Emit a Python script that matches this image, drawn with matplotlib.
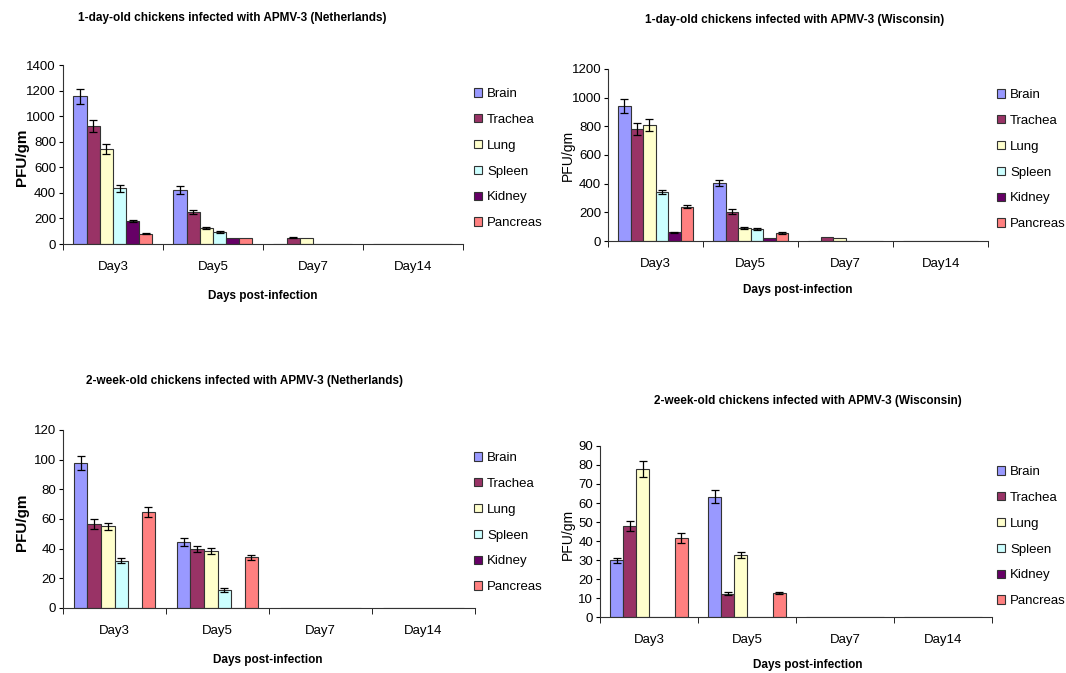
import matplotlib
matplotlib.use("Agg")
import matplotlib.pyplot as plt
import numpy as np

plt.rcParams['font.family'] = ['Liberation Sans Narrow', 'Liberation Sans', 'DejaVu Sans']

days = ["Day3", "Day5", "Day7", "Day14"]
organs = ["Brain", "Trachea", "Lung", "Spleen", "Kidney", "Pancreas"]
colors = ["#9999ff", "#993366", "#ffffcc", "#ccffff", "#660066", "#ff8080"]

# values per organ, one entry per day (Day3, Day5, Day7, Day14)
nl_1d = {
    "Brain":    [1155, 425, 0, 0],
    "Trachea":  [925, 250, 50, 0],
    "Lung":     [745, 125, 45, 0],
    "Spleen":   [435, 95, 0, 0],
    "Kidney":   [180, 50, 0, 0],
    "Pancreas": [80, 45, 0, 0],
}
nl_1d_err = {
    "Brain":    [60, 30, 0, 0],
    "Trachea":  [45, 15, 3, 0],
    "Lung":     [40, 5, 0, 0],
    "Spleen":   [25, 5, 0, 0],
    "Kidney":   [8, 0, 0, 0],
    "Pancreas": [5, 0, 0, 0],
}
wi_1d = {
    "Brain":    [940, 405, 0, 0],
    "Trachea":  [780, 205, 28, 0],
    "Lung":     [810, 90, 20, 0],
    "Spleen":   [340, 85, 0, 0],
    "Kidney":   [60, 20, 0, 0],
    "Pancreas": [240, 55, 0, 0],
}
wi_1d_err = {
    "Brain":    [50, 20, 0, 0],
    "Trachea":  [40, 15, 0, 0],
    "Lung":     [40, 5, 0, 0],
    "Spleen":   [15, 5, 0, 0],
    "Kidney":   [5, 0, 0, 0],
    "Pancreas": [10, 5, 0, 0],
}
nl_2w = {
    "Brain":    [97.5, 44.4, 0, 0],
    "Trachea":  [56.5, 39.8, 0, 0],
    "Lung":     [55.0, 38.3, 0, 0],
    "Spleen":   [31.7, 12.2, 0, 0],
    "Kidney":   [0, 0, 0, 0],
    "Pancreas": [64.8, 34.2, 0, 0],
}
nl_2w_err = {
    "Brain":    [4.7, 2.5, 0, 0],
    "Trachea":  [3.4, 2.0, 0, 0],
    "Lung":     [2.5, 2.0, 0, 0],
    "Spleen":   [1.7, 1.1, 0, 0],
    "Kidney":   [0, 0, 0, 0],
    "Pancreas": [3.4, 1.6, 0, 0],
}
wi_2w = {
    "Brain":    [29.8, 63.2, 0, 0],
    "Trachea":  [47.7, 12.3, 0, 0],
    "Lung":     [77.9, 32.6, 0, 0],
    "Spleen":   [0, 0, 0, 0],
    "Kidney":   [0, 0, 0, 0],
    "Pancreas": [41.8, 12.5, 0, 0],
}
wi_2w_err = {
    "Brain":    [1.3, 3.4, 0, 0],
    "Trachea":  [2.6, 0.7, 0, 0],
    "Lung":     [4.1, 1.75, 0, 0],
    "Spleen":   [0, 0, 0, 0],
    "Kidney":   [0, 0, 0, 0],
    "Pancreas": [2.6, 0.5, 0, 0],
}

panels = [
    dict(title="1-day-old chickens infected with APMV-3 (Netherlands)", vals=nl_1d, err=nl_1d_err,
         rect=[0.0591, 0.6374, 0.3752, 0.2660], ymax=1400, step=200, bold=True,
         title_xy=(232, 18), xlab_xy=(263, 296), ylab_xy=(22, 157), leg_xy=(474, 88)),
    dict(title="1-day-old chickens infected with APMV-3 (Wisconsin)", vals=wi_1d, err=wi_1d_err,
         rect=[0.5704, 0.6419, 0.3565, 0.2556], ymax=1200, step=200, bold=False,
         title_xy=(795, 20), xlab_xy=(798, 290), ylab_xy=(568, 155), leg_xy=(997, 89)),
    dict(title="2-week-old chickens infected with APMV-3 (Netherlands)", vals=nl_2w, err=nl_2w_err,
         rect=[0.0591, 0.0966, 0.3865, 0.2645], ymax=120, step=20, bold=True,
         title_xy=(245, 381), xlab_xy=(268, 660), ylab_xy=(22, 522), leg_xy=(474, 452)),
    dict(title="2-week-old chickens infected with APMV-3 (Wisconsin)", vals=wi_2w, err=wi_2w_err,
         rect=[0.5629, 0.0832, 0.3677, 0.2541], ymax=90, step=10, bold=False,
         title_xy=(808, 401), xlab_xy=(808, 665), ylab_xy=(568, 534), leg_xy=(997, 466)),
]

W, H = 1066, 673
fig = plt.figure(figsize=(W / 100, H / 100), dpi=100)

bw = 0.79 / 6
x = np.arange(len(days))
for p in panels:
    ax = fig.add_axes(p["rect"])
    handles = []
    for i, org in enumerate(organs):
        pos = x - 0.395 + bw * (i + 0.5)
        vals = np.array(p["vals"][org], dtype=float)
        errs = np.array(p["err"][org], dtype=float)
        b = ax.bar(pos, vals, bw, color=colors[i], edgecolor="#333333", linewidth=0.8, label=org)
        mask = errs > 0
        ax.errorbar(pos[mask], vals[mask], yerr=errs[mask], fmt="none", ecolor="black",
                    elinewidth=0.9, capsize=3, capthick=0.9)
        handles.append(b)
    ax.set_xlim(-0.5, 3.5)
    ax.set_ylim(0, p["ymax"])
    ax.set_yticks(np.arange(0, p["ymax"] + 1, p["step"]))
    ax.set_xticks(x)
    ax.set_xticklabels(days)
    ax.set_xticks(np.arange(-0.5, 4, 1), minor=True)
    ax.tick_params(axis="x", which="major", length=0, pad=12, labelsize=9.5)
    ax.tick_params(axis="x", which="minor", length=4, direction="out")
    ax.tick_params(axis="y", length=3, labelsize=9.5, pad=2)
    for s in ["top", "right"]:
        ax.spines[s].set_visible(False)
    for s in ["left", "bottom"]:
        ax.spines[s].set_color("#333333")
    fig.text(p["title_xy"][0] / W, 1 - p["title_xy"][1] / H, p["title"], ha="center", va="center",
             fontsize=8.5, fontweight="bold", family=["Liberation Sans", "DejaVu Sans"])
    fig.text(p["xlab_xy"][0] / W, 1 - p["xlab_xy"][1] / H, "Days post-infection", ha="center",
             va="center", fontsize=8.5, fontweight="bold", family=["Liberation Sans", "DejaVu Sans"])
    fig.text(p["ylab_xy"][0] / W, 1 - p["ylab_xy"][1] / H, "PFU/gm", ha="center", va="center",
             rotation=90, fontsize=11 if p["bold"] else 10,
             fontweight="bold" if p["bold"] else "normal",
             family=["Liberation Sans", "DejaVu Sans"])
    fig.legend(handles=handles, labels=organs, loc="upper left",
               bbox_to_anchor=(p["leg_xy"][0] / W, 1 - p["leg_xy"][1] / H),
               frameon=False, fontsize=9.5, handlelength=0.6, handleheight=0.6,
               handletextpad=0.4, labelspacing=1.05, borderaxespad=0, borderpad=0)

fig.savefig("out.png", dpi=100)
